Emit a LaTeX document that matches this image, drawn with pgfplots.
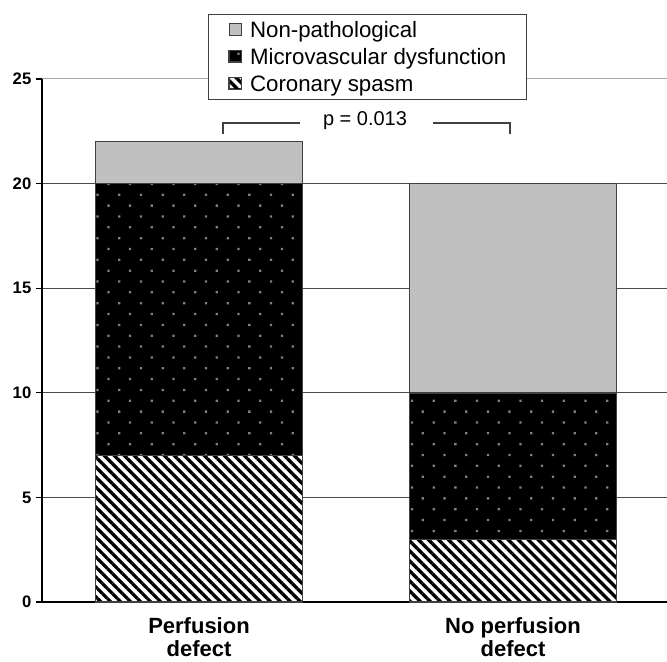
\documentclass[border=0pt]{standalone}
\usepackage{pgfplots}
\pgfplotsset{compat=1.18}
\usepackage{fontspec}
\setmainfont{Liberation Sans}
\usetikzlibrary{patterns.meta}

% colours
\definecolor{silverfill}{HTML}{C0C0C0}
\definecolor{edgegray}{HTML}{404040}

\begin{document}
\begin{tikzpicture}
% 1 px of the reference = 0.75pt
\useasboundingbox (0,0) rectangle (500.25pt,495.75pt);
\clip (0,0) rectangle (500.25pt,495.75pt);
\begin{axis}[
    at={(31.5pt,44.25pt)}, anchor=south west,
    scale only axis,
    width=471pt, height=392.25pt,
    ybar stacked,
    bar width=0.66,
    xmin=-0.5, xmax=1.5,
    ymin=0, ymax=25,
    axis x line*=bottom, axis y line*=left,
    axis line style={black, line width=1.5pt},
    xtick={0,1},
    xticklabels={{Perfusion\\defect},{No perfusion\\defect}},
    xtick style={draw=none},
    xticklabel style={align=center, font=\bfseries\fontsize{16.5}{17.5}\selectfont, yshift=-3.5pt},
    ytick={0,5,...,20},
    extra y ticks={25},
    extra y tick style={grid style={black!35, line width=0.75pt}},
    ytick style={black, line width=1pt},
    tick align=outside,
    major tick length=4.5pt,
    yticklabel style={font=\bfseries\fontsize{12.5}{14}\selectfont},
    /pgf/number format/assume math mode=true,
    ymajorgrids,
    grid style={black!70, line width=0.75pt},
    reverse legend,
    legend cell align=left,
    legend style={at={(0.2643,1.1243)}, anchor=north west,
      draw=black!75, line width=1pt, fill=white,
      font=\fontsize{16.7}{19}\selectfont,
      inner xsep=15pt, inner ysep=3.5pt, row sep=4.25pt,
      nodes={inner sep=0pt, text height=13.5pt, text depth=2.5pt},
      /tikz/every odd column/.append style={column sep=6pt}},
    legend image code/.code={\draw[#1, line width=0.6pt] (0pt,-3.8pt) rectangle (9.5pt,4.8pt);},
    ]

\addplot [draw=edgegray, line width=1.1pt, preaction={fill=white},
  pattern={Lines[angle=-45, distance=5.3pt, line width=2.5pt]}, pattern color=black]
  coordinates {(0,7) (1,3)};
\addplot [draw=edgegray, line width=1.1pt, preaction={fill=black},
  pattern={Dots[radius=1.2pt, distance=11.5pt, angle=45]}, pattern color=black!50]
  coordinates {(0,13) (1,7)};
\addplot [draw=edgegray, line width=1.1pt, fill=silverfill]
  coordinates {(0,2) (1,10)};

\legend{Coronary spasm, Microvascular dysfunction, Non-pathological}

% significance bracket
\draw[edgegray, line width=1.1pt] (axis cs:0.0764,22.37) |- (axis cs:0.3217,22.9);
\draw[edgegray, line width=1.1pt] (axis cs:0.745,22.9) -| (axis cs:0.990,22.37);
\node[font=\fontsize{15}{18}\selectfont] at (axis cs:0.5287,22.99) {p = 0.013};
\end{axis}
\end{tikzpicture}
\end{document}
